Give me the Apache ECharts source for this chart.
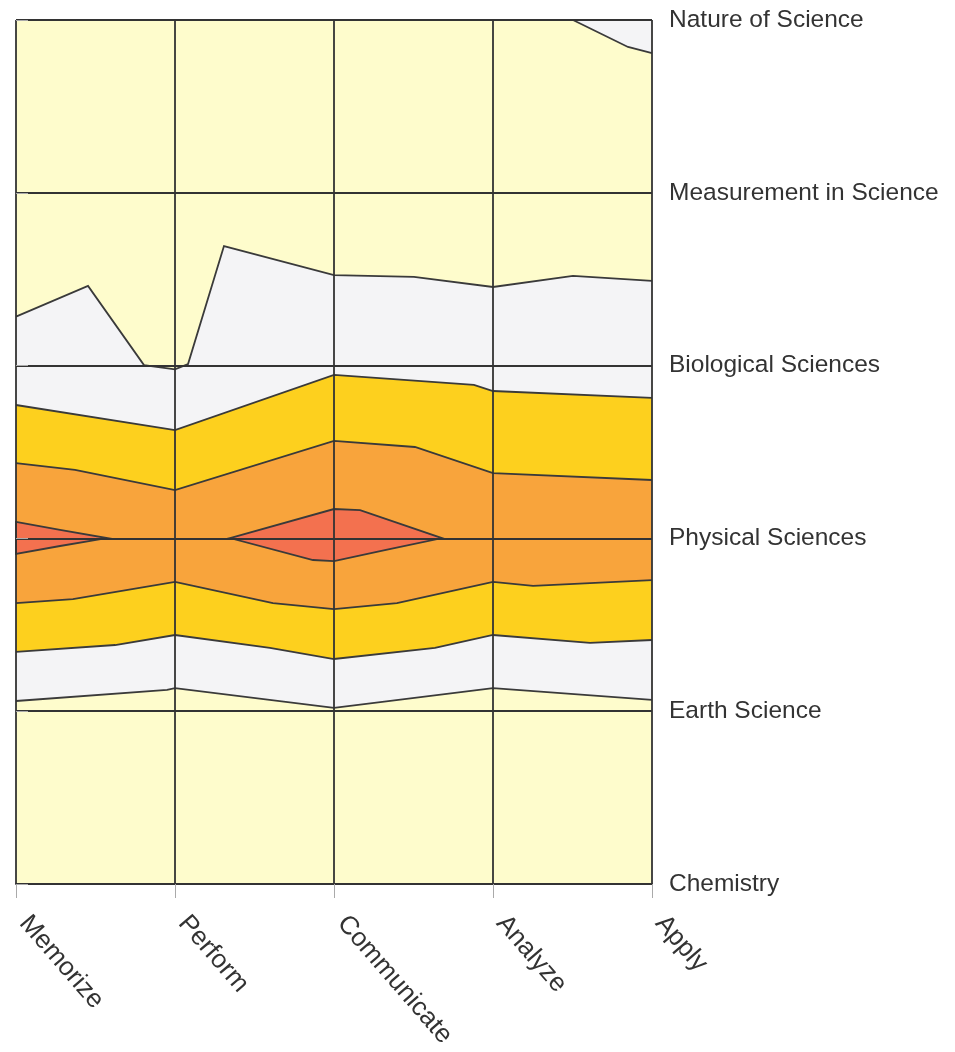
<!DOCTYPE html>
<html><head><meta charset="utf-8">
<script src="https://cdn.jsdelivr.net/npm/echarts@6/dist/echarts.min.js"></script>
<style>html,body{margin:0;padding:0;background:#fff}#c{width:955px;height:1052px}</style>
</head><body><div id="c"></div>
<script>
// Categories
const xCategories = ['Memorize', 'Perform', 'Communicate', 'Analyze', 'Apply'];
const yCategories = ['Chemistry', 'Earth Science', 'Physical Sciences', 'Biological Sciences', 'Measurement in Science', 'Nature of Science'];

// Contour lines, as [x category index, y category index]
const lineTopRight = [[3.503, 5], [3.849, 4.844], [4, 4.809]];
const lineA = [[0, 3.283], [0.453, 3.461], [0.805, 3.003], [1.0, 2.978], [1.082, 3.009], [1.308, 3.692], [2, 3.524], [2.503, 3.513], [3, 3.455], [3.503, 3.519], [4, 3.490]];
const lineB = [[0, 2.772], [1, 2.627], [2, 2.946], [2.88, 2.888], [3, 2.853], [4, 2.813]];
const lineC = [[0, 2.436], [0.371, 2.396], [1, 2.280], [2, 2.564], [2.509, 2.529], [3, 2.378], [4, 2.338]];
const lineE = [[0, 1.626], [0.358, 1.649], [1, 1.748], [1.616, 1.626], [2, 1.591], [2.396, 1.626], [3, 1.748], [3.252, 1.725], [4, 1.759]];
const lineF = [[0, 1.343], [0.623, 1.383], [1, 1.441], [1.597, 1.366], [2, 1.302], [2.635, 1.366], [3, 1.441], [3.61, 1.395], [4, 1.412]];
const lineG = [[0, 1.059], [0.95, 1.123], [1, 1.134], [2, 1.019], [3, 1.134], [4, 1.065]];
const peakLeft = [[0, 2.095], [0.277, 2.049], [0.572, 2.002], [0.277, 1.956], [0, 1.910]];
const peakMiddle = [[1.346, 2.002], [2, 2.170], [2.164, 2.164], [2.679, 2.002], [2.327, 1.933], [2, 1.869], [1.868, 1.875]];

const C_BG = '#FEFCCC', C_WHITE = '#F4F4F6', C_GOLD = '#FDD01E', C_ORANGE = '#F8A43C', C_RED = '#F3714F';
const rev = a => a.slice().reverse();

const polygons = [
  { pts: [[0, 0], [4, 0], [4, 5], [0, 5]], fill: C_BG },
  { pts: lineTopRight.concat([[4, 5]]), fill: C_WHITE },
  { pts: lineA.concat(rev(lineG)), fill: C_WHITE },
  { pts: lineB.concat(rev(lineF)), fill: C_GOLD },
  { pts: lineC.concat(rev(lineE)), fill: C_ORANGE },
  { pts: peakLeft, fill: C_RED },
  { pts: peakMiddle, fill: C_RED }
];
const strokes = [lineTopRight, lineA, lineB, lineC, lineE, lineF, lineG];

const chart = echarts.init(document.getElementById('c'));
const fontFam = '"Liberation Sans", Arial, sans-serif';

chart.setOption({
  animation: false,
  backgroundColor: '#ffffff',
  grid: { left: 16, right: 303, top: 20, bottom: 168, outerBoundsMode: 'none' },
  xAxis: {
    type: 'value', min: 0, max: 4, interval: 1, z: 5,
    axisLine: { show: true, lineStyle: { color: '#333', width: 1.8 } },
    axisTick: { show: true, length: 14, lineStyle: { color: '#aaa', width: 1 } },
    splitLine: { show: true, lineStyle: { color: '#333', width: 1.8 } },
    axisLabel: {
      formatter: v => xCategories[v] || '', rotate: -49, margin: 26,
      padding: [0, 0, 0, 12],
      fontSize: 26, color: '#333', fontFamily: fontFam,
      showMinLabel: true, showMaxLabel: true
    }
  },
  yAxis: {
    type: 'value', min: 0, max: 5, interval: 1, position: 'right', z: 5,
    axisLine: { show: false },
    axisTick: { show: true, length: 12, lineStyle: { color: '#aaa', width: 1 } },
    splitLine: { show: true, lineStyle: { color: '#333', width: 1.8 } },
    axisLabel: {
      formatter: v => yCategories[v] || '', margin: 17,
      fontSize: 24.5, color: '#333', fontFamily: fontFam,
      showMinLabel: true, showMaxLabel: true
    }
  },
  series: [
    {
      type: 'custom', z: 2, silent: true,
      data: polygons.map((p, i) => [i]),
      encode: { x: -1, y: -1 },
      renderItem: (params, api) => {
        const p = polygons[params.dataIndex];
        return { type: 'polygon', shape: { points: p.pts.map(q => api.coord(q)) }, style: { fill: p.fill, stroke: null } };
      }
    },
    {
      type: 'custom', z: 3, silent: true,
      data: strokes.map((s, i) => [i]).concat([[strokes.length], [strokes.length + 1]]),
      encode: { x: -1, y: -1 },
      renderItem: (params, api) => {
        const i = params.dataIndex;
        if (i < strokes.length) {
          return { type: 'polyline', shape: { points: strokes[i].map(q => api.coord(q)) }, style: { fill: null, stroke: '#3a3a3a', lineWidth: 1.8 } };
        }
        const pk = i === strokes.length ? peakLeft : peakMiddle;
        return { type: 'polygon', shape: { points: pk.map(q => api.coord(q)) }, style: { fill: null, stroke: '#3a3a3a', lineWidth: 1.8 } };
      }
    }
  ]
});
</script></body></html>
